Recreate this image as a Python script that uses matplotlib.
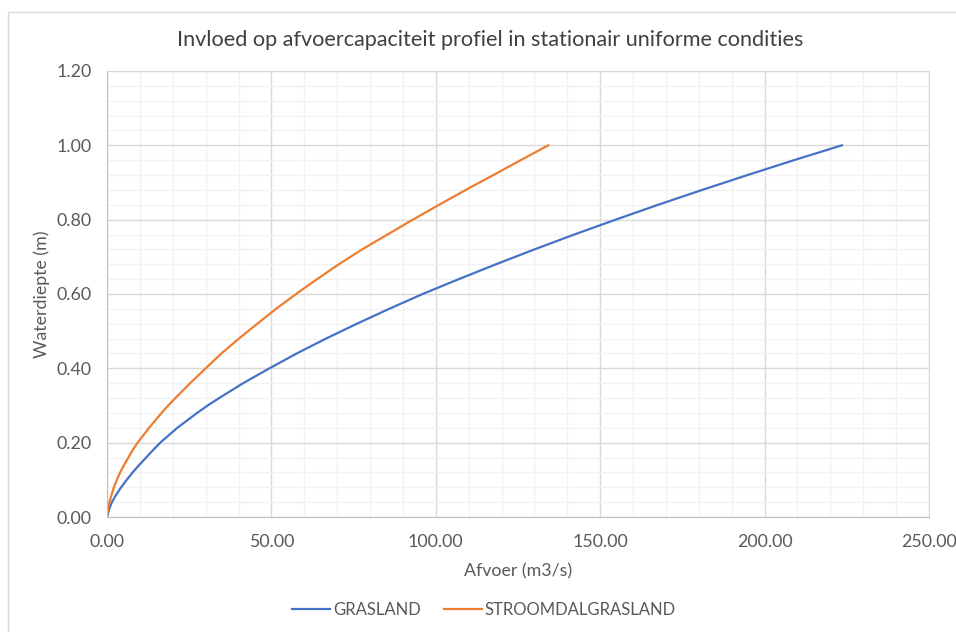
import numpy as np
import matplotlib
matplotlib.use("Agg")
import matplotlib.pyplot as plt
from matplotlib.patches import Rectangle
from matplotlib.ticker import MultipleLocator, FormatStrFormatter

plt.rcParams['font.family'] = ['Lato', 'DejaVu Sans']

# waterdiepte (m) en afvoer (m3/s)
diepte = [0.00, 0.02, 0.04, 0.06, 0.08, 0.10, 0.12, 0.14, 0.16, 0.18, 0.20,
          0.24, 0.28, 0.30, 0.32, 0.36, 0.40, 0.44, 0.48, 0.52, 0.56, 0.60,
          0.64, 0.68, 0.72, 0.76, 0.80, 0.84, 0.88, 0.92, 0.96, 1.00]
q_grasland = [0.0, 0.6, 1.5, 2.8, 4.3, 6.0, 7.8, 9.8, 11.9, 14.0, 16.2,
              21.4, 27.4, 30.6, 34.1, 41.4, 49.4, 57.7, 66.6, 76.0, 85.8, 96.0,
              107.0, 118.3, 130.0, 142.1, 154.7, 167.6, 181.0, 194.8, 208.9, 223.5]
q_stroomdal = [0.0, 0.25, 0.75, 1.4, 2.1, 3.0, 4.0, 5.2, 6.5, 7.8, 9.3,
               12.8, 16.6, 18.6, 20.8, 25.3, 30.0, 34.8, 40.1, 45.7, 51.4, 57.5,
               63.9, 70.5, 77.6, 85.3, 93.0, 101.0, 109.1, 117.5, 125.8, 134.2]
labels = ['GRASLAND', 'STROOMDALGRASLAND']
colors = ['#4472C4', '#ED7D31']

txt = '#595959'
fig = plt.figure(figsize=(9.56, 6.32), dpi=100)
fig.patches.append(Rectangle((8 / 956, -0.1), 1.2, 1 - 12 / 632 + 0.1,
                             transform=fig.transFigure, fill=False,
                             edgecolor='#d9d9d9', linewidth=1))
ax = fig.add_axes([107 / 956, 1 - 517 / 632, 822 / 956, 446 / 632])

ax.plot(q_grasland, diepte, color=colors[0], lw=1.6, label=labels[0])
ax.plot(q_stroomdal, diepte, color=colors[1], lw=1.6, label=labels[1])

ax.set_xlim(0, 250)
ax.set_ylim(0, 1.2)
ax.xaxis.set_major_locator(MultipleLocator(50))
ax.xaxis.set_minor_locator(MultipleLocator(10))
ax.yaxis.set_major_locator(MultipleLocator(0.2))
ax.yaxis.set_minor_locator(MultipleLocator(0.04))
ax.xaxis.set_major_formatter(FormatStrFormatter('%.2f'))
ax.yaxis.set_major_formatter(FormatStrFormatter('%.2f'))
ax.grid(which='major', color='#d9d9d9', lw=1)
ax.grid(which='minor', color='#f2f2f2', lw=1)
ax.set_axisbelow(True)
for s in ax.spines.values():
    s.set_color('#d9d9d9')
ax.spines['left'].set_color('#bfbfbf')
ax.spines['bottom'].set_color('#bfbfbf')
ax.tick_params(which='both', length=0, labelsize=12.8, colors=txt)
ax.tick_params(axis='y', pad=11)
ax.tick_params(axis='x', pad=12)

ax.set_xlabel('Afvoer (m3/s)', fontsize=12.8, color=txt, labelpad=10)
ax.set_ylabel('Waterdiepte (m)', fontsize=12.8, color=txt, labelpad=5)
fig.text(490 / 956, 1 - 40 / 632, 'Invloed op afvoercapaciteit profiel in stationair uniforme condities',
         ha='center', va='center', fontsize=15.6, color='#404040')

fig.legend(loc='center', bbox_to_anchor=(484 / 956, 1 - 610 / 632), ncol=2, frameon=False,
           fontsize=12, labelcolor=txt, handlelength=2.3, handletextpad=0.15,
           columnspacing=1.4)

fig.savefig('out.png', dpi=100)
